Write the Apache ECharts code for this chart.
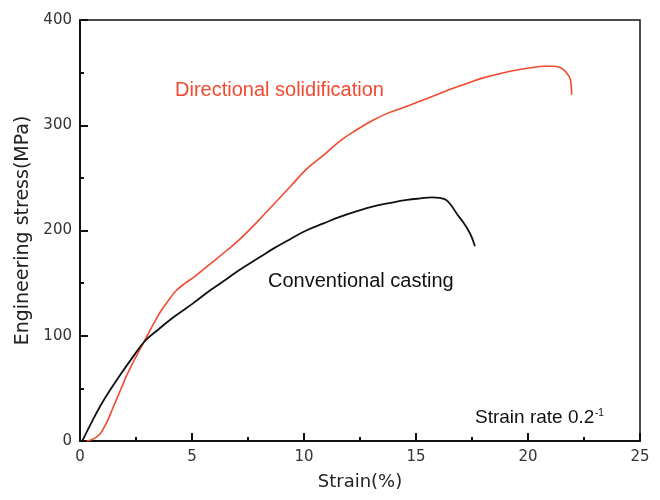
<!DOCTYPE html>
<html><head><meta charset="utf-8">
<script src="https://cdn.jsdelivr.net/npm/echarts@6/dist/echarts.min.js"></script>
<style>html,body{margin:0;padding:0;background:#fff;overflow:hidden}#c{width:660px;height:500px}</style>
</head><body><div id="c"></div>
<script>
const xTicks = [0, 5, 10, 15, 20, 25];
const yTicks = [0, 100, 200, 300, 400];
const dsStrain = [0.3,0.6,0.9,1.2,1.5,1.8,2.1,2.4,2.7,3.0,3.3,3.6,4.0,4.3,4.7,5.1,5.8,6.55,7.15,7.9,8.65,9.4,10.1,10.9,11.6,12.3,13.1,13.8,14.6,15.2,15.8,16.5,17.3,18.0,18.75,19.5,20.25,20.7,21.1,21.4,21.6,21.75,21.88,21.93,21.95];
const dsStress = [0,2,7,18,33,48,63,76,88,100,112,123,135,143,150,156,168,181,192,208,225,242,258,272,285,295,305,312,318,323,328,334,340,345,349,352.5,355,356,356,355,352.5,349,344.5,337,329];
const ccStrain = [0.1,0.5,0.9,1.3,1.8,2.3,2.9,3.5,4.2,5.06,5.8,6.55,7.15,8.05,8.65,9.4,10.1,10.9,11.6,12.3,13.1,13.8,14.6,15.2,15.7,16.05,16.35,16.6,16.82,17.1,17.34,17.5,17.63];
const ccStress = [0,17,33,47,63,78,95,106,118,131,143,154,163,175,183,192,200,207,213,218,223,226,229,230.5,231.5,231,229,223,216,208,200,193,185];
const labels = {ds:'Directional solidification', cc:'Conventional casting', rate:'Strain rate 0.2', sup:'-1'};
const pair = (a,b)=>a.map((v,i)=>[v,b[i]]);
const F = 'Liberation Sans, Arial, sans-serif';
const D = 'DejaVu Sans, sans-serif';
const chart = echarts.init(document.getElementById('c'), null, {renderer:'canvas'});
chart.setOption({
  animation:false,
  backgroundColor:'#fff',
  grid:{left:80,width:560,top:20,height:421,show:true,borderColor:'#111',borderWidth:1.5,backgroundColor:'transparent'},
  xAxis:{type:'value',min:xTicks[0],max:xTicks[xTicks.length-1],interval:5,
    name:'Strain(%)',nameLocation:'middle',nameGap:32,nameTextStyle:{fontFamily:D,fontSize:18,color:'#222'},
    axisLine:{lineStyle:{color:'#111',width:2}},
    axisTick:{inside:true,length:8,lineStyle:{color:'#111',width:2}},
    minorTick:{show:true,splitNumber:2,length:4,lineStyle:{color:'#111',width:2}},
    axisLabel:{margin:9,fontFamily:D,fontSize:15,color:'#333'},
    splitLine:{show:false}},
  yAxis:{type:'value',min:yTicks[0],max:yTicks[yTicks.length-1],interval:100,
    name:'Engineering stress(MPa)',nameLocation:'middle',nameGap:47,nameTextStyle:{fontFamily:D,fontSize:19,color:'#222'},
    axisLine:{show:true,lineStyle:{color:'#111',width:2}},
    axisTick:{show:true,inside:true,length:8,lineStyle:{color:'#111',width:2}},
    minorTick:{show:true,splitNumber:2,length:4,lineStyle:{color:'#111',width:2}},
    axisLabel:{margin:8,fontFamily:D,fontSize:15,color:'#333'},
    splitLine:{show:false}},
  series:[
    {type:'line',data:pair(dsStrain,dsStress),showSymbol:false,smooth:0.4,lineStyle:{color:'#f04a30',width:1.6}},
    {type:'line',data:pair(ccStrain,ccStress),showSymbol:false,smooth:0.4,lineStyle:{color:'#111',width:1.8}}
  ],
  graphic:[
    {type:'text',x:175,y:90,style:{text:labels.ds,font:'20px '+F,fill:'#f04a30',align:'left',verticalAlign:'middle'}},
    {type:'text',x:268,y:281,style:{text:labels.cc,font:'20px '+F,fill:'#111',align:'left',verticalAlign:'middle'}},
    {type:'text',x:475,y:418,style:{text:labels.rate,font:'19px '+F,fill:'#111',align:'left',verticalAlign:'middle'}},
    {type:'text',x:595,y:413,style:{text:labels.sup,font:'10px '+F,fill:'#111',align:'left',verticalAlign:'middle'}}
  ]
});
</script></body></html>
